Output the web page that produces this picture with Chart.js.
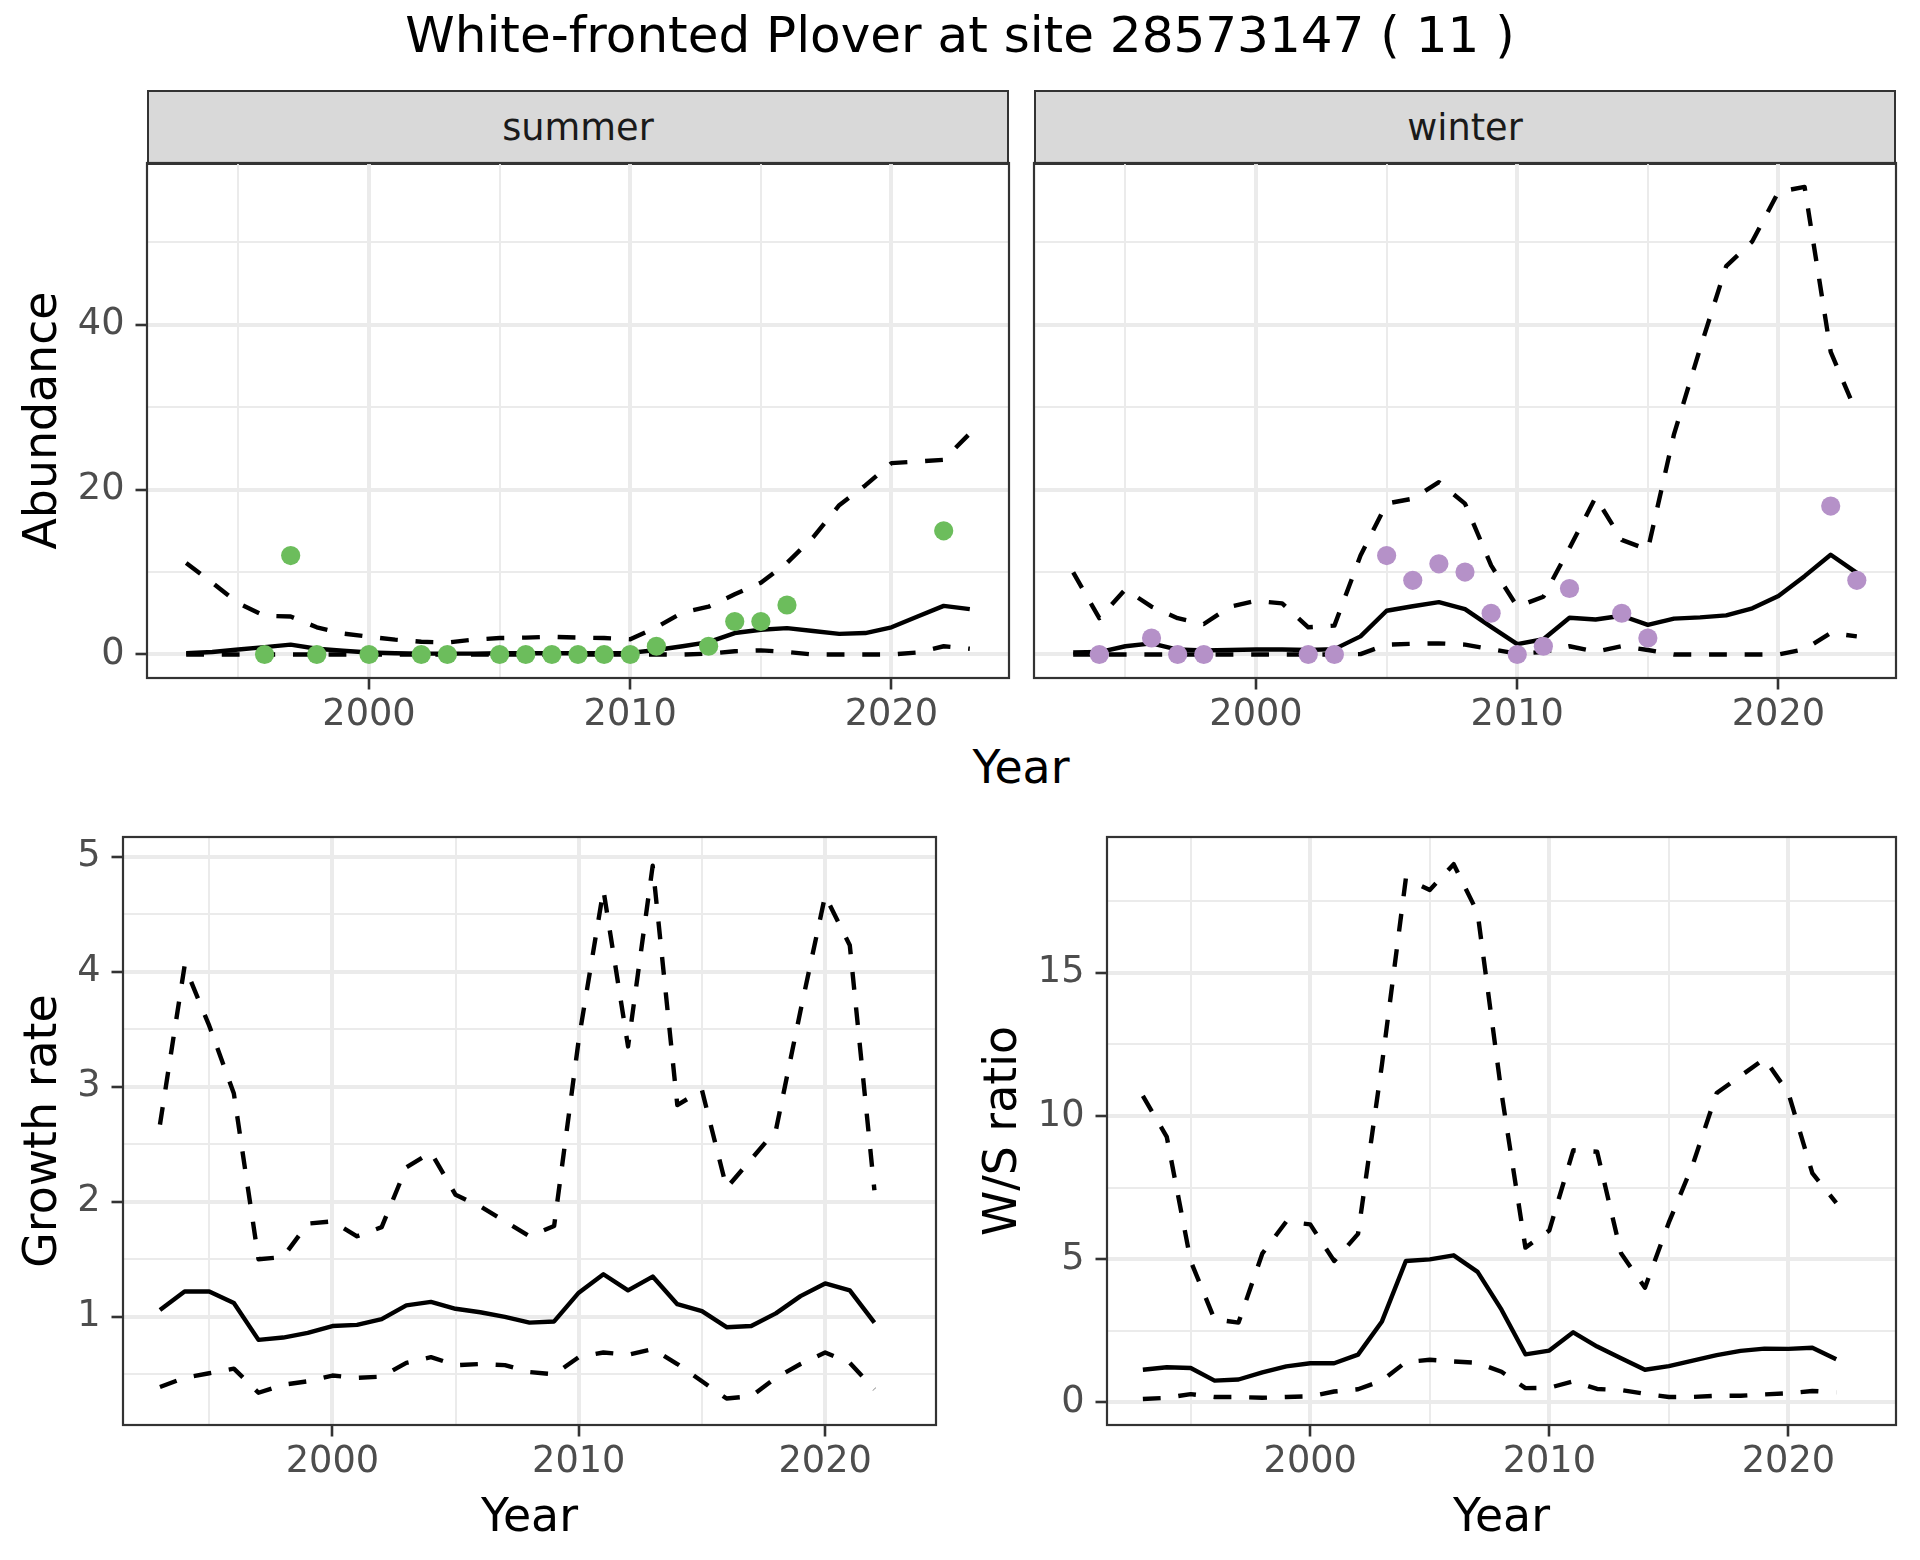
<!DOCTYPE html>
<html>
<head>
<meta charset="utf-8">
<script src="https://cdn.jsdelivr.net/npm/chart.js@4.4.0/dist/chart.umd.min.js"></script>
<style>
  body { margin: 0; width: 1920px; height: 1560px; background: #fff; position: relative; overflow: hidden; font-family: 'DejaVu Sans', sans-serif; }
  canvas { position: absolute; }
  .txt { position: absolute; white-space: nowrap; line-height: 1; color: #000; }
  .strip { position: absolute; box-sizing: border-box; background: #D9D9D9; border: 2.2px solid #333333; color: #1A1A1A; font-size: 36.7px; text-align: center; }
</style>
</head>
<body>
<div class="txt" style="left:0; width:1920px; top:10px; font-size:50px; text-align:center;">White-fronted Plover at site 28573147 ( 11 )</div>
<div class="strip" style="left:147px; top:90px; width:862px; height:75px; line-height:71px;">summer</div>
<div class="strip" style="left:1034px; top:90px; width:862px; height:75px; line-height:71px;">winter</div>
<div class="txt" style="left:821px; width:400px; top:745px; font-size:45.8px; text-align:center;">Year</div>

<canvas id="summer" width="1013" height="583" style="left:0px; top:155px;"></canvas>
<canvas id="winter" width="876" height="583" style="left:1024px; top:155px;"></canvas>
<canvas id="growth" width="940" height="731" style="left:0px; top:829px;"></canvas>
<canvas id="ratio" width="940" height="731" style="left:960px; top:829px;"></canvas>

<script>
// years
var years = [1993, 1994, 1995, 1996, 1997, 1998, 1999, 2000, 2001, 2002, 2003, 2004, 2005, 2006, 2007, 2008,
             2009, 2010, 2011, 2012, 2013, 2014, 2015, 2016, 2017, 2018, 2019, 2020, 2021, 2022, 2023];
var yearsRate = years.slice(0, 30); // growth rate and W/S ratio stop at 2022

// summer abundance: model mean and bounds
var summerMean  = [0.16, 0.3, 0.6, 0.9, 1.2, 0.7, 0.45, 0.25, 0.15, 0.1, 0.1, 0.1, 0.15, 0.15, 0.15, 0.15,
                   0.15, 0.2, 0.55, 1.0, 1.5, 2.6, 3.0, 3.2, 2.85, 2.5, 2.6, 3.3, 4.6, 5.9, 5.5];
var summerUpper = [11.1, 8.7, 6.2, 4.7, 4.6, 3.3, 2.55, 2.15, 1.8, 1.55, 1.45, 1.8, 2.0, 2.05, 2.15, 2.05,
                   2.0, 1.85, 3.3, 5.1, 5.8, 7.3, 8.7, 11.1, 14.2, 18.1, 20.5, 23.2, 23.4, 23.6, 26.8];
var summerLower = [0, 0, 0, 0, 0, 0, 0, 0, 0, 0, 0, 0, 0, 0, 0, 0,
                   0, 0, 0, 0, 0.1, 0.4, 0.5, 0.3, 0, 0, 0, 0, 0.25, 1.0, 0.7];
// summer counts
var summerCountYears = [1996, 1997, 1998, 2000, 2002, 2003, 2005, 2006, 2007, 2008, 2009, 2010, 2011, 2013, 2014, 2015, 2016, 2022];
var summerCounts     = [0, 12, 0, 0, 0, 0, 0, 0, 0, 0, 0, 0, 1, 1, 4, 4, 6, 15];

// winter abundance
var winterMean  = [0.25, 0.3, 1.0, 1.35, 0.6, 0.5, 0.55, 0.6, 0.6, 0.55, 0.65, 2.2, 5.3, 5.85, 6.35, 5.5,
                   3.35, 1.25, 1.85, 4.45, 4.25, 4.7, 3.6, 4.35, 4.5, 4.75, 5.6, 7.1, 9.5, 12.1, 9.9];
var winterUpper = [9.95, 4.4, 7.9, 5.8, 4.4, 3.7, 5.8, 6.5, 6.2, 3.3, 3.5, 12.0, 18.3, 18.9, 20.9, 18.3,
                   10.8, 5.8, 7.0, 12.9, 19.05, 13.9, 12.7, 26.7, 37.1, 47.1, 50.1, 56.1, 56.7, 36.7, 29.2];
var winterLower = [0, 0, 0, 0, 0, 0, 0, 0, 0, 0, 0, 0.05, 1.2, 1.3, 1.35, 1.2,
                   0.65, 0.1, 0.3, 1.0, 0.35, 1.0, 0.55, 0, 0, 0, 0, 0, 0.65, 2.6, 2.2];
var winterCountYears = [1994, 1996, 1997, 1998, 2002, 2003, 2005, 2006, 2007, 2008, 2009, 2010, 2011, 2012, 2014, 2015, 2022, 2023];
var winterCounts     = [0, 2, 0, 0, 0, 0, 12, 9, 11, 10, 5, 0, 1, 8, 5, 2, 18, 9];

// growth rate
var growthMean  = [1.06, 1.22, 1.22, 1.12, 0.80, 0.82, 0.86, 0.92, 0.93, 0.98, 1.10, 1.13, 1.07, 1.04, 1.0,
                   0.95, 0.96, 1.21, 1.37, 1.23, 1.35, 1.11, 1.05, 0.91, 0.92, 1.03, 1.18, 1.29, 1.23, 0.95];
var growthUpper = [2.67, 4.05, 3.53, 2.94, 1.50, 1.52, 1.81, 1.83, 1.70, 1.78, 2.30, 2.43, 2.06, 1.96, 1.83,
                   1.70, 1.79, 3.41, 4.71, 3.35, 4.92, 2.84, 2.97, 2.12, 2.37, 2.62, 3.66, 4.66, 4.23, 2.10];
var growthLower = [0.39, 0.47, 0.51, 0.55, 0.34, 0.41, 0.44, 0.49, 0.47, 0.48, 0.60, 0.65, 0.58, 0.59, 0.58,
                   0.52, 0.50, 0.65, 0.69, 0.67, 0.72, 0.59, 0.44, 0.29, 0.31, 0.47, 0.59, 0.69, 0.60, 0.37];

// winter / summer ratio
var ratioMean  = [1.13, 1.22, 1.19, 0.75, 0.79, 1.04, 1.25, 1.36, 1.36, 1.66, 2.82, 4.93, 4.99, 5.13, 4.55,
                  3.23, 1.67, 1.80, 2.44, 1.94, 1.53, 1.13, 1.26, 1.45, 1.64, 1.79, 1.87, 1.86, 1.90, 1.50];
var ratioUpper = [10.7, 9.27, 4.93, 2.89, 2.78, 5.2, 6.31, 6.21, 4.93, 5.88, 11.8, 18.3, 17.9, 18.8, 17.1,
                  10.8, 5.4, 6.0, 8.8, 8.75, 5.2, 4.0, 6.28, 8.3, 10.8, 11.4, 12.0, 10.8, 8.0, 6.96];
var ratioLower = [0.11, 0.15, 0.28, 0.18, 0.18, 0.15, 0.18, 0.2, 0.37, 0.45, 0.75, 1.4, 1.48, 1.42, 1.37,
                  1.06, 0.49, 0.5, 0.73, 0.46, 0.42, 0.29, 0.18, 0.18, 0.22, 0.22, 0.27, 0.31, 0.39, 0.34];

// tick labels (major get a label, minor only a grid line)
var yearTicks       = [2000, 2010, 2020];
var yearMinor       = [1995, 2005, 2015];
var abundanceTicks  = [0, 20, 40];
var abundanceMinor  = [10, 30, 50];
var growthTicks     = [1, 2, 3, 4, 5];
var growthMinor     = [0.5, 1.5, 2.5, 3.5, 4.5];
var ratioTicks      = [0, 5, 10, 15];
var ratioMinor      = [2.5, 7.5, 12.5, 17.5];

Chart.defaults.font.family = "'DejaVu Sans', sans-serif";
Chart.defaults.animation = false;

function pts(xs, ys) {
  return xs.map(function (x, i) { return { x: x, y: ys[i] }; });
}

function band(xs, ys, dashed) {
  return {
    data: pts(xs, ys), borderColor: '#000000', borderWidth: 4.4,
    borderDash: dashed ? [17.8, 17.8] : [], borderJoinStyle: 'round',
    pointRadius: 0, tension: 0, fill: false
  };
}

function dots(xs, ys, color) {
  return { data: pts(xs, ys), showLine: false, pointRadius: 9.6, pointBorderWidth: 0,
           pointBackgroundColor: color, backgroundColor: color, borderColor: color };
}

function grid(major, showTicks) {
  return {
    color: '#EBEBEB',
    lineWidth: function (c) { return major.indexOf(c.tick.value) >= 0 ? 4 : 2; },
    drawTicks: showTicks,
    tickLength: 11.5,
    tickWidth: 2.6,
    tickColor: function (c) { return major.indexOf(c.tick.value) >= 0 ? '#333333' : 'rgba(0,0,0,0)'; }
  };
}

function scale(major, minor, min, max, box, showLabels, titleCfg) {
  var all = major.concat(minor).sort(function (a, b) { return a - b; });
  return {
    type: 'linear', min: min, max: max, bounds: 'data',
    afterBuildTicks: function (s) { s.ticks = all.map(function (v) { return { value: v }; }); },
    afterFit: function (s) {
      if (s.isHorizontal()) s.height = box; else s.width = box;
      // no extra room for overhanging labels: the panels are placed by hand
      s.paddingTop = s.paddingBottom = s.paddingLeft = s.paddingRight = 0;
    },
    border: { display: false },
    grid: grid(major, showLabels),
    ticks: {
      display: showLabels, autoSkip: false, maxRotation: 0, color: '#4D4D4D', font: { size: 36.7 },
      padding: 0,
      callback: function (v) { return major.indexOf(v) >= 0 ? String(v) : ''; }
    },
    title: titleCfg || { display: false }
  };
}

var panelBorder = {
  id: 'panelBorder',
  afterDatasetsDraw: function (chart) {
    var a = chart.chartArea, c = chart.ctx;
    c.save();
    c.strokeStyle = '#333333';
    c.lineWidth = 2.2;
    c.strokeRect(a.left, a.top, a.right - a.left, a.bottom - a.top);
    c.restore();
  }
};

function makeChart(id, datasets, xs, ys, padding) {
  xs.ticks.padding = 3.6;
  ys.ticks.padding = 11;
  return new Chart(document.getElementById(id), {
    type: 'line',
    data: { datasets: datasets },
    options: {
      responsive: false,
      layout: { padding: padding, autoPadding: false },
      plugins: { legend: { display: false }, tooltip: { enabled: false } },
      scales: { x: xs, y: ys }
    },
    plugins: [panelBorder]
  });
}

function axisTitle(text, padTop, padBottom) {
  return { display: true, text: text, color: '#000000', font: { size: 45.8, lineHeight: 1.2 },
           padding: { top: padTop, bottom: padBottom } };
}

makeChart('summer', [
  dots(summerCountYears, summerCounts, 'rgb(108,189,92)'),
  band(years, summerMean, false),
  band(years, summerLower, true),
  band(years, summerUpper, true)
], scale(yearTicks, yearMinor, 1991.5, 2024.5, 60, true),
   scale(abundanceTicks, abundanceMinor, -2.85, 59.6, 147, true, axisTitle('Abundance', 16.9, 0)),
   { top: 8, right: 4, left: 0, bottom: 0 });

makeChart('winter', [
  dots(winterCountYears, winterCounts, 'rgb(181,145,200)'),
  band(years, winterMean, false),
  band(years, winterLower, true),
  band(years, winterUpper, true)
], scale(yearTicks, yearMinor, 1991.5, 2024.5, 60, true),
   scale(abundanceTicks, abundanceMinor, -2.85, 59.6, 10, false),
   { top: 8, right: 4, left: 0, bottom: 0 });

makeChart('growth', [
  band(yearsRate, growthMean, false),
  band(yearsRate, growthLower, true),
  band(yearsRate, growthUpper, true)
], scale(yearTicks, yearMinor, 1991.5, 2024.5, 135, true, axisTitle('Year', 0, 13)),
   scale(growthTicks, growthMinor, 0.06, 5.17, 123, true, axisTitle('Growth rate', 16.9, 0)),
   { top: 8, right: 4, left: 0, bottom: 0 });

makeChart('ratio', [
  band(yearsRate, ratioMean, false),
  band(yearsRate, ratioLower, true),
  band(yearsRate, ratioUpper, true)
], scale(yearTicks, yearMinor, 1991.5, 2024.5, 135, true, axisTitle('Year', 0, 13)),
   scale(ratioTicks, ratioMinor, -0.8, 19.75, 147, true, axisTitle('W/S ratio', 16.9, 0)),
   { top: 8, right: 4, left: 0, bottom: 0 });
</script>
</body>
</html>
